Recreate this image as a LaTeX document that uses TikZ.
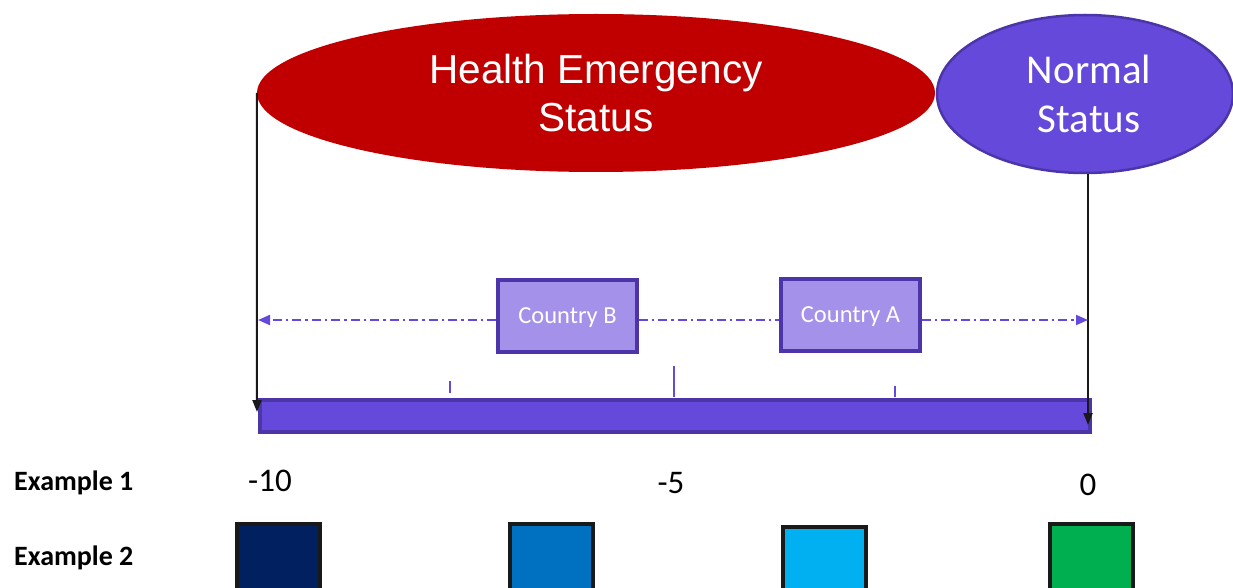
\documentclass[tikz,border=0pt]{standalone}
\usepackage{fontspec}
\setmainfont{Carlito}
\newfontfamily\arialf{Liberation Sans}
\usetikzlibrary{shapes.geometric,arrows.meta}
\definecolor{redE}{HTML}{C00000}
\definecolor{purp}{HTML}{6449DB}
\definecolor{purpD}{HTML}{4B35A8}
\definecolor{lilac}{HTML}{A391EA}
\definecolor{sq1}{HTML}{002060}
\definecolor{sq2}{HTML}{0070C0}
\definecolor{sq3}{HTML}{00B0F0}
\definecolor{sq4}{HTML}{00B050}
\tikzset{
  statusell/.style={ellipse, inner sep=0pt, text=white, align=center},
  countrybox/.style={draw=purpD, line width=3.5pt, fill=lilac, text=white, minimum width=139pt, minimum height=72pt, inner sep=0pt, text height=17pt, text depth=2pt, font=\fontsize{24.5}{28}\selectfont},
  sqbox/.style={draw=black!90, line width=3.5pt, minimum width=83pt, minimum height=90pt, anchor=north west, inner sep=0pt},
  ticklab/.style={font=\fontsize{33}{36}\selectfont, inner sep=0pt},
  exlab/.style={font=\bfseries\fontsize{28}{32}\selectfont, anchor=west, inner sep=0pt},
  tickmark/.style={draw=purp, line width=2pt},
  dashdot/.style={draw=purp, line width=2pt, dash pattern=on 9pt off 4pt on 2.5pt off 4pt},
  darr/.style={-{Triangle[length=12pt,width=10pt]}},
  vline/.style={draw=black!90, line width=2pt, -{Triangle[length=12pt,width=9pt]}}
}
\begin{document}
\begin{tikzpicture}[x=1pt,y=-1pt]
\useasboundingbox (0,0) rectangle (1233,588);
\clip (0,0) rectangle (1233,588);
% ellipses
\node[statusell, fill=redE, minimum width=678pt, minimum height=158pt,
  font=\arialf\fontsize{40.5}{48}\selectfont] (hes) at (596,93) {Health Emergency\\Status};
\node[statusell, fill=purp, draw=purpD, line width=2.5pt, minimum width=296pt, minimum height=158pt,
  font=\fontsize{41}{49}\selectfont] (ns) at (1085,94) {\hspace*{8pt}Normal\\\hspace*{8pt}Status};
% bar
\node[draw=purpD, line width=3.5pt, fill=purp, minimum width=830pt, minimum height=32pt, inner sep=0pt, anchor=north west] (bar) at (258,398) {};
% ticks
\coordinate (t1a) at (450,381); \coordinate (t1b) at (450,393);
\coordinate (t2a) at (674,366); \coordinate (t2b) at (674,397);
\coordinate (t3a) at (895,386); \coordinate (t3b) at (895,397);
\draw[tickmark] (t1a) -- (t1b);
\draw[tickmark] (t2a) -- (t2b);
\draw[tickmark] (t3a) -- (t3b);
% vertical lines
\coordinate (lend) at (257,412);
\coordinate (rend) at (1088,425);
\draw[vline] (hes.west) -- (lend);
\draw[vline] (ns.south -| rend) -- (rend);
% country boxes
\node[countrybox] (cb) at (567.5,316) {Country B};
\node[countrybox] (ca) at (850.5,315) {Country A};
\coordinate (dl) at (258,320);
\coordinate (dr) at (1088,320);
\draw[dashdot, darr] (cb.west |- dl) -- (dl);
\draw[dashdot] (cb.east |- dl) -- (ca.west |- dl);
\draw[dashdot, darr] (ca.east |- dr) -- (dr);
% labels
\node[exlab] (e1) at (14,483) {Example 1};
\node[exlab] (e2) at (14,558) {Example 2};
\node[ticklab] (l10) at (270,481) {-10};
\node[ticklab] (l5) at (671,483) {-5};
\node[ticklab] (l0) at (1088,485) {0};
% squares
\node[sqbox, fill=sq1] (s1) at (235,522) {};
\node[sqbox, fill=sq2] (s2) at (508,522) {};
\node[sqbox, fill=sq3] (s3) at (781,525) {};
\node[sqbox, fill=sq4] (s4) at (1048,522) {};
\end{tikzpicture}
\end{document}
